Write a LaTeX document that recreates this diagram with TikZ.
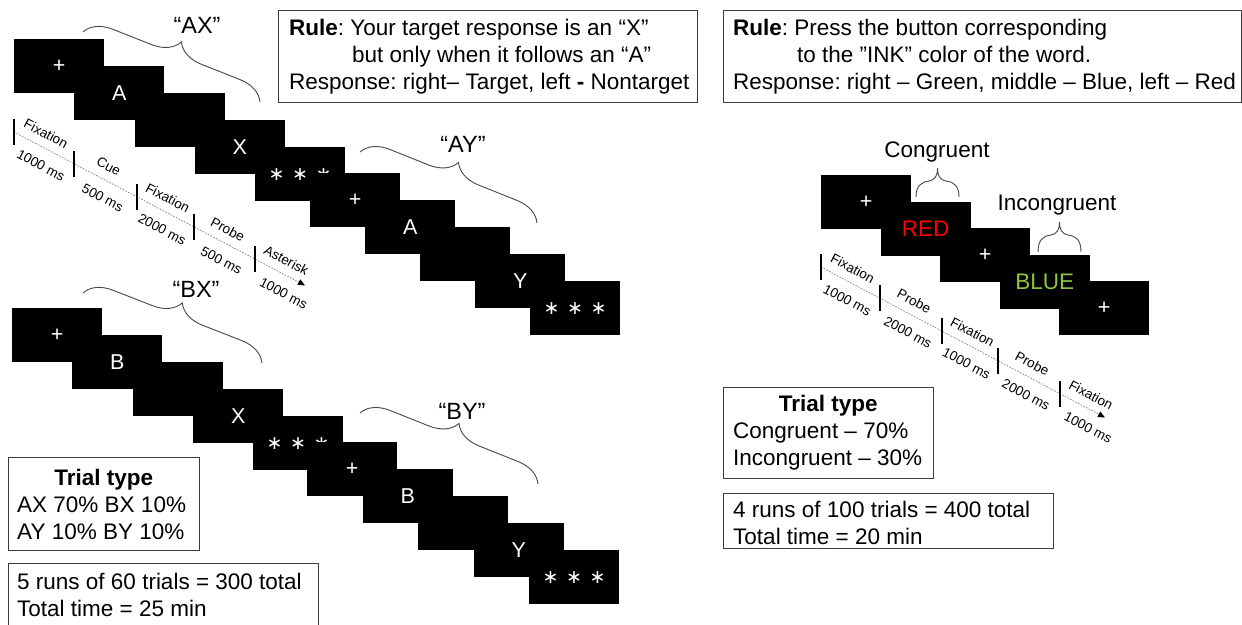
\documentclass[tikz,border=0pt]{standalone}
\usepackage{fontspec}
\setmainfont{Liberation Sans}
\newfontfamily\djv{DejaVu Sans}
\usetikzlibrary{decorations.pathreplacing,arrows.meta,calc}

\definecolor{inkred}{RGB}{255,0,0}
\definecolor{inkgreen}{RGB}{141,198,63}
\definecolor{framegray}{RGB}{60,60,60}
\definecolor{bracegray}{RGB}{70,70,70}

\begin{document}
\begin{tikzpicture}[x=1pt,y=-1pt,
  screen/.style={fill=black,minimum width=90pt,minimum height=54pt,inner sep=0pt,
    anchor=north west,text=white,font=\fontsize{21.5}{24}\selectfont},
  stars/.style={font=\djv\fontsize{19}{24}\selectfont},
  ink/.style={font=\fontsize{22.5}{24}\selectfont,inner sep=0pt},
  panel/.style={draw=framegray,line width=1pt,anchor=north west,inner sep=0pt},
  body/.style={font=\fontsize{22.5}{27}\selectfont\frenchspacing,inner sep=0pt,align=left},
  cond/.style={font=\fontsize{23.5}{28}\selectfont,inner sep=0pt},
  bracket/.style={draw=bracegray,line width=0.9pt,decorate,decoration={brace,amplitude=27pt}},
  hand/.style={draw=bracegray,line width=0.9pt},
  tick/.style={line width=2.2pt},
  timeaxis/.style={draw=gray,line width=0.7pt,dash pattern=on 1.6pt off 1.4pt,
    -{Triangle[length=7pt,width=6pt,color=black]}},
  tlabel/.style={font=\fontsize{13.5}{15}\selectfont,sloped,inner sep=0pt,anchor=center},
  up/.style={yshift=13.5pt},
  dn/.style={yshift=-17pt},
]
\useasboundingbox (0,0) rectangle (1242,624);
\clip (0,0) rectangle (1242,624);

\newcommand{\threestars}{\makebox[23.5pt]{∗}\makebox[23.5pt]{∗}\makebox[23.5pt]{∗}}

% ---------------- AX-CPT: AX and AY trials ----------------
\node[screen] (ax1) at (14,39) {+};
\node[screen] (ax2) at (74,66) {A};
\node[screen] (ax3) at (134.5,93) {};
\node[screen] (ax4) at (194.5,120) {X};
\node[screen,stars] (ax5) at (255,147) {\threestars};
\node[screen] (ay1) at (310,173) {+};
\node[screen] (ay2) at (365,200) {A};
\node[screen] (ay3) at (420,227) {};
\node[screen] (ay4) at (475,254) {Y};
\node[screen,stars] (ay5) at (530,281) {\threestars};

% ---------------- AX-CPT: BX and BY trials ----------------
\node[screen] (bx1) at (12,308) {+};
\node[screen] (bx2) at (72,335) {B};
\node[screen] (bx3) at (132.5,362) {};
\node[screen] (bx4) at (193,389) {X};
\node[screen,stars] (bx5) at (253,416) {\threestars};
\node[screen] (by1) at (307,442) {+};
\node[screen] (by2) at (362.5,469) {B};
\node[screen] (by3) at (418,496) {};
\node[screen] (by4) at (473.5,523) {Y};
\node[screen,stars] (by5) at (529,550) {\threestars};

% ---------------- Stroop sequence: screens, then their words on top ----------------
\node[screen] (st1) at (821,175) {+};
\node[screen] (st2) at (880.5,201.5) {};
\node[screen] (st3) at (940,228) {+};
\node[screen] (st4) at (999.5,254.5) {};
\node[screen] (st5) at (1059,281) {+};
\node[ink,text=inkred] (st2word) at (st2.center) {RED};
\node[ink,text=inkgreen] (st4word) at (st4.center) {BLUE};

% ---------------- trial-pair braces ----------------
\coordinate (axA) at (83,32);   \coordinate (axB) at (260,102);
\coordinate (ayA) at (360,152); \coordinate (ayB) at (537,223);
\coordinate (bxA) at (83,293);  \coordinate (bxB) at (262,363);
\coordinate (byA) at (360,413); \coordinate (byB) at (538,484);
\draw[bracket] (axA) -- (axB);
\draw[bracket] (ayA) -- (ayB);
\draw[bracket] (bxA) -- (bxB);
\draw[bracket] (byA) -- (byB);
\node[cond] (axlab) at (197,25) {“AX”};
\node[cond] (aylab) at (463,144) {“AY”};
\node[cond] (bxlab) at (196,289) {“BX”};
\node[cond] (bylab) at (462,411) {“BY”};

% small braces over the Stroop words
\coordinate (cgL) at (916,197);  \coordinate (cgR) at (959,197);
\coordinate (icL) at (1038,252); \coordinate (icR) at (1081,252);
\draw[hand] (cgL) .. controls +(0,-11) and +(-8,1) .. ++(13,-16)
  .. controls +(6,-1) and +(0,8) .. ++(8.5,-13)
  .. controls +(0,8) and +(-6,-1) .. ++(8.5,13)
  .. controls +(8,1) and +(0,-11) .. (cgR);
\draw[hand] (icL) .. controls +(0,-12) and +(-8,1) .. ++(13,-17)
  .. controls +(6,-1) and +(0,8) .. ++(8.5,-13)
  .. controls +(0,8) and +(-6,-1) .. ++(8.5,13)
  .. controls +(8,1) and +(0,-12) .. (icR);
\node[body] (cglab) at (937,152) {Congruent};
\node[body] (iclab) at (1057,205) {Incongruent};

% ---------------- AX-CPT timeline ----------------
\coordinate (la1) at (14,132);
\coordinate (la2) at (74,163.6);
\coordinate (la3) at (137,196.8);
\coordinate (la4) at (194,226.9);
\coordinate (la5) at (255,259);
\coordinate (laend) at (305,285.4);
\draw[timeaxis] (la1) -- (laend);
\foreach \t in {la1,la2,la3,la4,la5}
  \draw[tick] ([yshift=13pt]\t) -- ([yshift=-13pt]\t);
\path (la1) -- node[tlabel,up,pos=.43] (lf1) {Fixation} node[tlabel,dn,pos=.58] (ld1) {1000 ms} (la2);
\path (la2) -- node[tlabel,up,pos=.45] (lf2) {Cue} node[tlabel,dn,pos=.58] (ld2) {500 ms} (la3);
\path (la3) -- node[tlabel,up,pos=.43] (lf3) {Fixation} node[tlabel,dn,pos=.58] (ld3) {2000 ms} (la4);
\path (la4) -- node[tlabel,up,pos=.45] (lf4) {Probe} node[tlabel,dn,pos=.58] (ld4) {500 ms} (la5);
\path (la5) -- node[tlabel,up,pos=.5] (lf5) {Asterisk} node[tlabel,dn,pos=.73] (ld5) {1000 ms} (laend);

% ---------------- Stroop timeline ----------------
\coordinate (rb1) at (821,267);
\coordinate (rb2) at (880,298.3);
\coordinate (rb3) at (942,331.1);
\coordinate (rb4) at (998,360.8);
\coordinate (rb5) at (1060,393.7);
\coordinate (rbend) at (1105,417.5);
\draw[timeaxis] (rb1) -- (rbend);
\foreach \t in {rb1,rb2,rb3,rb4,rb5}
  \draw[tick] ([yshift=13pt]\t) -- ([yshift=-13pt]\t);
\path (rb1) -- node[tlabel,up,pos=.43] (rf1) {Fixation} node[tlabel,dn,pos=.58] (rd1) {1000 ms} (rb2);
\path (rb2) -- node[tlabel,up,pos=.45] (rf2) {Probe} node[tlabel,dn,pos=.58] (rd2) {2000 ms} (rb3);
\path (rb3) -- node[tlabel,up,pos=.43] (rf3) {Fixation} node[tlabel,dn,pos=.58] (rd3) {1000 ms} (rb4);
\path (rb4) -- node[tlabel,up,pos=.45] (rf4) {Probe} node[tlabel,dn,pos=.58] (rd4) {2000 ms} (rb5);
\path (rb5) -- node[tlabel,up,pos=.55] (rf5) {Fixation} node[tlabel,dn,pos=.8] (rd5) {1000 ms} (rbend);

% ---------------- rule panels ----------------
\node[panel,minimum width=419pt,minimum height=92pt] (ruleL) at (278,10) {};
\node[body,anchor=west] (ruleLtext) at ([xshift=11pt]ruleL.west)
  {\textbf{Rule}: Your target response is an “X”\\
   \hspace*{63pt}but only when it follows an “A”\\
   Response: right– Target, left \textbf{-} Nontarget};
\node[panel,minimum width=518pt,minimum height=92pt] (ruleR) at (723,10) {};
\node[body,anchor=west] (ruleRtext) at ([xshift=10pt]ruleR.west)
  {\textbf{Rule}: Press the button corresponding\\
   \hspace*{64pt}to the ”INK” color of the word.\\
   Response: right – Green, middle – Blue, left – Red};

% ---------------- trial-type and session panels ----------------
\node[panel,minimum width=191pt,minimum height=93pt] (trialL) at (8,457) {};
\node[body,anchor=west] (trialLtext) at (17,504)
  {\makebox[173pt]{\textbf{Trial type}}\\AX 70\% BX 10\%\\AY 10\% BY 10\%};
\node[panel,minimum width=310pt,minimum height=85pt] (runsL) at (8,563) {};
\node[body,anchor=west] (runsLtext) at (17,595)
  {5 runs of 60 trials = 300 total\\Total time = 25 min};

\node[panel,minimum width=210pt,minimum height=91pt] (trialR) at (723,387) {};
\node[body,anchor=west] (trialRtext) at (733,432.5)
  {\makebox[190pt]{\textbf{Trial type}}\\Congruent – 70\%\\Incongruent – 30\%};
\node[panel,minimum width=330pt,minimum height=55pt] (runsR) at (723,493) {};
\node[body,anchor=west] (runsRtext) at (733,523)
  {4 runs of 100 trials = 400 total\\Total time = 20 min};
\end{tikzpicture}
\end{document}
